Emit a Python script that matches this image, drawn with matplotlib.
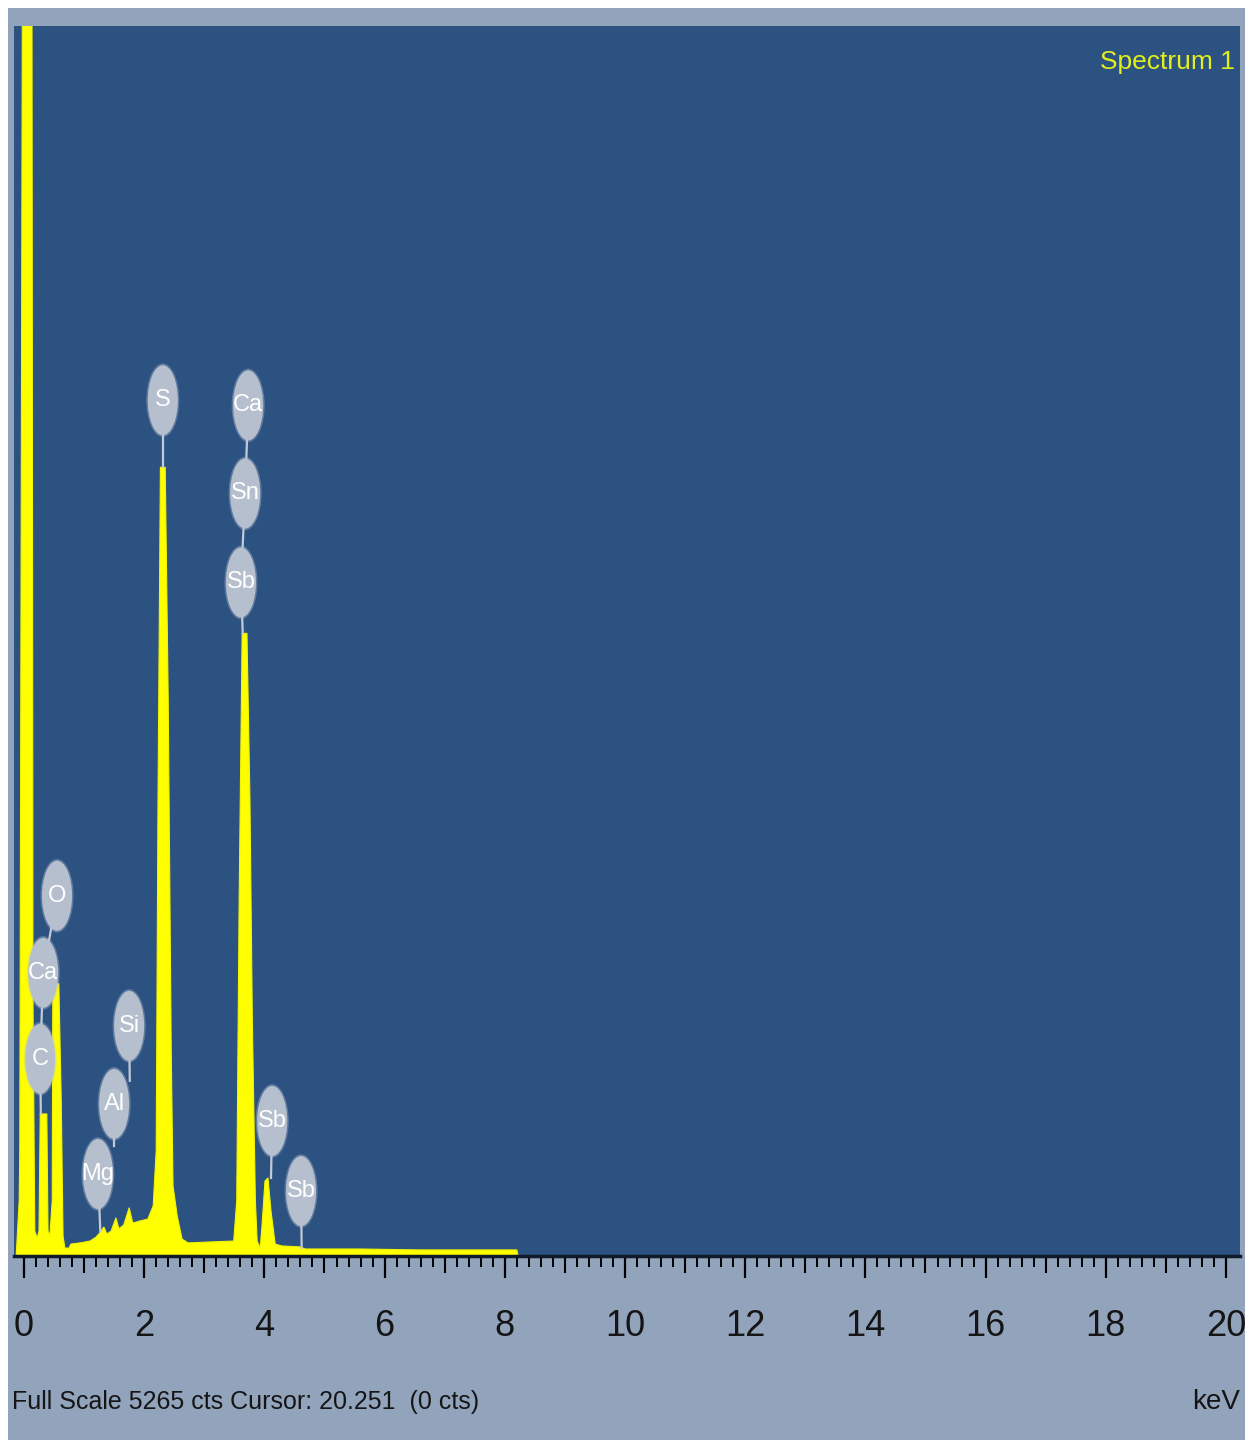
import matplotlib
matplotlib.use('Agg')
import matplotlib.pyplot as plt
from matplotlib.patches import Ellipse, Rectangle
import numpy as np

# spectrum outline (keV, counts)
energy_kev = [-0.13, -0.08, -0.07, -0.02, 0.13, 0.15, 0.18, 0.22, 0.25, 0.27,
              0.38, 0.40, 0.43, 0.47, 0.48, 0.58, 0.62, 0.65, 0.68, 0.75,
              0.78, 0.93, 1.10, 1.20, 1.26, 1.33, 1.38, 1.45, 1.53, 1.58,
              1.66, 1.75, 1.81, 1.93, 2.06, 2.15, 2.20, 2.23, 2.27, 2.35,
              2.40, 2.45, 2.48, 2.55, 2.63, 2.73, 3.09, 3.49, 3.54, 3.58,
              3.63, 3.71, 3.76, 3.80, 3.85, 3.88, 3.93, 3.96, 4.01, 4.06,
              4.11, 4.18, 4.29, 4.59, 4.68, 5.59, 6.59, 7.59, 8.20, 8.22, 20.2]
counts = [0, 236, 450, 6200, 6200, 1092, 107, 77, 107, 608,
          608, 107, 86, 236, 1165, 1165, 664, 86, 34, 34,
          51, 56, 64, 81, 99, 124, 94, 107, 163, 116,
          133, 206, 141, 150, 158, 214, 450, 1949, 3376, 3376,
          2378, 878, 300, 171, 73, 56, 60, 64, 236, 1521,
          2665, 2665, 1949, 1000, 236, 64, 34, 128, 321, 334,
          193, 51, 43, 39, 30, 30, 26, 26, 26, 0, 0]

full_scale = 5265
x_ticks = [0, 2, 4, 6, 8, 10, 12, 14, 16, 18, 20]

# element markers: label, badge centre (keV, cts), stem end (keV, cts)
markers = [
    ('S', 2.31, 3663, 2.31, 3376),
    ('Ca', 3.73, 3641, 3.68, 3264),
    ('Sn', 3.68, 3264, 3.61, 2883),
    ('Sb', 3.61, 2883, 3.64, 2665),
    ('O', 0.55, 1542, 0.32, 1212),
    ('Ca', 0.32, 1212, 0.27, 844),
    ('C', 0.27, 844, 0.28, 608),
    ('Si', 1.75, 985, 1.76, 750),
    ('Al', 1.50, 651, 1.50, 471),
    ('Mg', 1.23, 351, 1.27, 107),
    ('Sb', 4.13, 578, 4.11, 334),
    ('Sb', 4.61, 278, 4.62, 34),
]

W, H = 1252, 1448
plt.rcParams['font.family'] = ['Liberation Sans', 'DejaVu Sans']

fig = plt.figure(figsize=(W / 100, H / 100), dpi=100)
fig.patch.set_facecolor('white')
# light grey-blue window panel behind the plot
fig.patches.append(Rectangle((8 / W, 8 / H), (1245 - 8) / W, (1440 - 8) / H,
                             transform=fig.transFigure, facecolor='#92a3bc',
                             edgecolor='none', zorder=-5))

left, right, top, bottom = 14, 1240, 26, 1256
ax = fig.add_axes([left / W, 1 - bottom / H, (right - left) / W, (bottom - top) / H])
ax.set_facecolor('#2c5282')
ax.set_xlim(-0.166, 20.233)
ax.set_ylim(0, full_scale)

ax.fill_between(energy_kev, counts, 0, color='#ffff00', lw=0.8, edgecolor='#f4f400', zorder=2)

# badges
bw, bh = 0.5, 300
for lab, bx, by, ex, ey in markers:
    ax.plot([bx, ex], [by, ey], color='#c3cad6', lw=1.6, zorder=3)
for lab, bx, by, ex, ey in markers:
    ax.add_patch(Ellipse((bx, by), bw * 1.1, bh * 1.05, facecolor='#c0c7d3',
                         edgecolor='none', alpha=0.35, zorder=4))
    ax.add_patch(Ellipse((bx, by), bw, bh, facecolor='#b6bfcd',
                         edgecolor='none', zorder=5))
    ax.text(bx, by, lab, color='white', fontsize=17, ha='center', va='center',
            zorder=6)

ax.text(0.996, 0.971, 'Spectrum 1', transform=ax.transAxes, color='#e2ef1e',
        fontsize=19, ha='right', va='center')

for s in ['left', 'right', 'top']:
    ax.spines[s].set_visible(False)
ax.spines['bottom'].set_color('#101a2a')
ax.spines['bottom'].set_linewidth(2.5)
ax.set_yticks([])
ax.set_xticks(x_ticks)
ax.set_xticks(np.arange(0, 20.01, 0.2), minor=True)
ax.tick_params(axis='x', which='major', direction='out', length=16, width=1.6,
               color='black', labelsize=26, labelcolor='#151515', pad=22)
ax.tick_params(axis='x', which='minor', direction='out', length=8, width=1.4,
               color='black')

mid = ax.secondary_xaxis(0)
mid.set_xticks(np.arange(1, 20, 2))
mid.tick_params(axis='x', direction='out', length=12, width=1.5, color='black',
                labelbottom=False)
mid.spines['bottom'].set_visible(False)

fig.text(12 / W, 1 - 1402 / H, 'Full Scale 5265 cts Cursor: 20.251  (0 cts)',
         fontsize=18, color='#151515', ha='left', va='center')
fig.text(1240 / W, 1 - 1402 / H, 'keV', fontsize=20, color='#151515',
         ha='right', va='center')

fig.savefig('out.png', dpi=100, facecolor='white')
